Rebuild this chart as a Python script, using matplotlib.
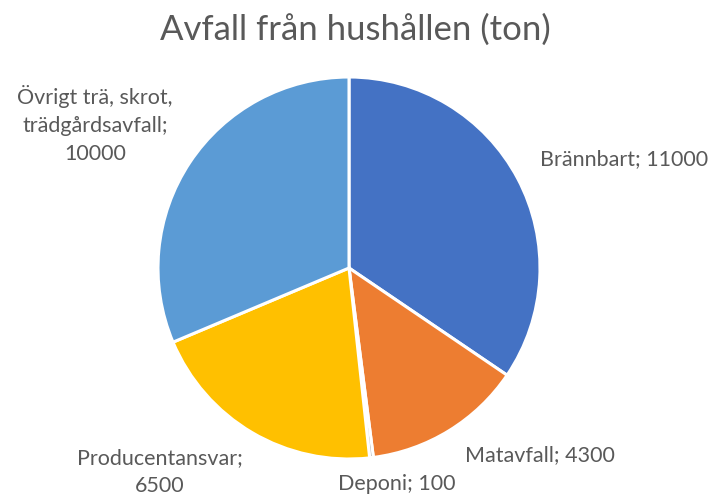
import matplotlib.pyplot as plt

# data
categories = ['Brännbart', 'Matavfall', 'Deponi', 'Producentansvar',
              'Övrigt trä, skrot,\nträdgårdsavfall']
values = [11000, 4300, 100, 6500, 10000]
colors = ['#4472C4', '#ED7D31', '#A5A5A5', '#FFC000', '#5B9BD5']

# label centres relative to pie centre, in radius units
label_pos = [(1.44, 0.57), (1.0, -0.98), (0.25, -1.13), (-0.99, -1.07), (-1.33, 0.75)]
label_text = ['Brännbart; 11000', 'Matavfall; 4300', 'Deponi; 100',
              'Producentansvar;\n6500', 'Övrigt trä, skrot,\nträdgårdsavfall;\n10000']

plt.rcParams['font.family'] = ['Lato', 'DejaVu Sans']

W, H = 710, 494
fig = plt.figure(figsize=(W / 100, H / 100), dpi=100)

cx, cy, r = 349, 268, 191
ax = fig.add_axes([(cx - r) / W, (H - cy - r) / H, 2 * r / W, 2 * r / H])
ax.pie(values, colors=colors, startangle=90, counterclock=False, radius=1,
       wedgeprops=dict(edgecolor='white', linewidth=2.2))
ax.set_xlim(-1, 1)
ax.set_ylim(-1, 1)
ax.set_aspect('equal')
ax.axis('off')

for (x, y), t in zip(label_pos, label_text):
    ax.text(x, y, t, ha='center', va='center', multialignment='center',
            fontsize=15.5, color='#595959', linespacing=1.5, clip_on=False)

fig.text(0.5, 1 - 30 / H, 'Avfall från hushållen (ton)', ha='center', va='center',
         fontsize=25, color='#595959')

fig.savefig('out.png', dpi=100)
